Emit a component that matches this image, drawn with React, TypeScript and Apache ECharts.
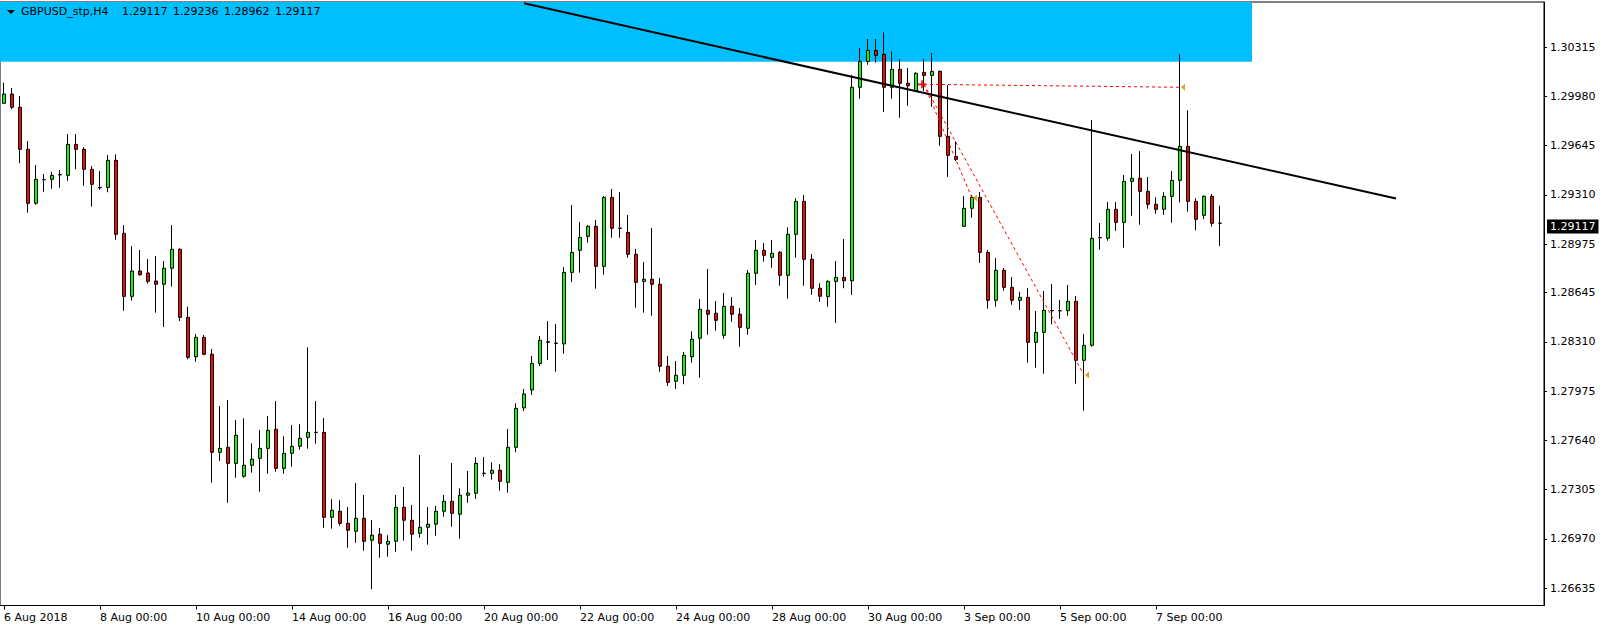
import React, { useEffect, useRef } from "react";
import * as echarts from "echarts";

const symbolName = "GBPUSD_stp,H4";
const xTickLabels = ["6 Aug 2018", "8 Aug 00:00", "10 Aug 00:00", "14 Aug 00:00", "16 Aug 00:00", "20 Aug 00:00", "22 Aug 00:00", "24 Aug 00:00", "28 Aug 00:00", "30 Aug 00:00", "3 Sep 00:00", "5 Sep 00:00", "7 Sep 00:00"];
const barsPerLabel = 12;
const totalSlots = 193;
const yTickValues = [1.30315, 1.2998, 1.29645, 1.2931, 1.28975, 1.28645, 1.2831, 1.27975, 1.2764, 1.27305, 1.2697, 1.26635];
const yMin = 1.26517;
const yMax = 1.30622;

const opens = [
  1.29933, 1.29996, 1.29906, 1.2962, 1.29253, 1.29415, 1.29416, 1.29446, 1.29443, 1.29654,
  1.2962, 1.29484, 1.2936, 1.29361, 1.29545, 1.29049, 1.2862, 1.28792, 1.28779, 1.28724,
  1.28702, 1.28811, 1.2894, 1.28477, 1.28209, 1.28341, 1.28226, 1.27559, 1.27593, 1.27484,
  1.27396, 1.27471, 1.27518, 1.27586, 1.27716, 1.2745, 1.27552, 1.276, 1.27661, 1.27696,
  1.27695, 1.27117, 1.27158, 1.27076, 1.27022, 1.2711, 1.26961, 1.27002, 1.26934, 1.26954,
  1.27185, 1.27097, 1.27008, 1.27049, 1.2707, 1.27158, 1.27226, 1.27138, 1.27267, 1.2728,
  1.27417, 1.27416, 1.27437, 1.27355, 1.27593, 1.27861, 1.27983, 1.28164, 1.28311, 1.28302,
  1.28296, 1.28783, 1.28933, 1.29028, 1.29096, 1.28824, 1.29293, 1.29084, 1.29055, 1.28906,
  1.28722, 1.28736, 1.28702, 1.28144, 1.28042, 1.28083, 1.28209, 1.28335, 1.28525, 1.28505,
  1.28355, 1.28552, 1.28498, 1.28403, 1.28777, 1.28933, 1.28885, 1.28919, 1.28763, 1.29042,
  1.29266, 1.28872, 1.28675, 1.28618, 1.28722, 1.28749, 1.28726, 1.30042, 1.30218, 1.30293,
  1.30266, 1.30042, 1.30164, 1.30069, 1.30014, 1.30144, 1.30123, 1.3015, 1.29708, 1.29572,
  1.29096, 1.29219, 1.29293, 1.28919, 1.28593, 1.28797, 1.28681, 1.28593, 1.28613, 1.28307,
  1.28375, 1.28523, 1.28521, 1.28522, 1.28586, 1.28185, 1.28287, 1.29018, 1.29015, 1.29212,
  1.29123, 1.29402, 1.29423, 1.29334, 1.29246, 1.29212, 1.293, 1.29409, 1.2964, 1.29266,
  1.29171, 1.293, 1.29117,
];

const highs = [
  1.30073, 1.30037, 1.29982, 1.29676, 1.29513, 1.29452, 1.29466, 1.29479, 1.29724, 1.29724,
  1.29634, 1.29506, 1.29472, 1.29581, 1.29586, 1.29105, 1.28962, 1.28935, 1.28874, 1.28894,
  1.2886, 1.29105, 1.28947, 1.28549, 1.28364, 1.28357, 1.28262, 1.27874, 1.27915, 1.27779,
  1.2779, 1.2762, 1.27711, 1.27806, 1.27908, 1.27668, 1.27745, 1.2775, 1.28273, 1.27908,
  1.27792, 1.2724, 1.27233, 1.27187, 1.2735, 1.27269, 1.27099, 1.27044, 1.26995, 1.27269,
  1.27323, 1.27201, 1.27541, 1.27187, 1.27194, 1.27269, 1.27486, 1.27314, 1.27432, 1.27525,
  1.27527, 1.27491, 1.27478, 1.27718, 1.27892, 1.2799, 1.28214, 1.2835, 1.28452, 1.28432,
  1.28819, 1.29241, 1.29126, 1.29105, 1.29139, 1.29302, 1.2935, 1.2933, 1.29173, 1.28942,
  1.28853, 1.29085, 1.28745, 1.28214, 1.2818, 1.28241, 1.28382, 1.28602, 1.28806, 1.28588,
  1.28643, 1.28615, 1.28541, 1.28799, 1.29003, 1.28983, 1.29003, 1.28928, 1.29089, 1.29287,
  1.29309, 1.28908, 1.28709, 1.28729, 1.2886, 1.2901, 1.30125, 1.30309, 1.3037, 1.3037,
  1.30416, 1.30286, 1.30234, 1.30173, 1.30144, 1.30234, 1.30275, 1.30157, 1.30057, 1.29674,
  1.29302, 1.29309, 1.2933, 1.28935, 1.28881, 1.28813, 1.28751, 1.28651, 1.28675, 1.2852,
  1.28656, 1.28704, 1.28595, 1.28697, 1.28622, 1.28364, 1.29819, 1.29119, 1.29262, 1.29262,
  1.29445, 1.29588, 1.29608, 1.29432, 1.29293, 1.29328, 1.29472, 1.30266, 1.29885, 1.29287,
  1.29307, 1.29316, 1.29236,
];

const lows = [
  1.29931, 1.29892, 1.29525, 1.29189, 1.29243, 1.29332, 1.29352, 1.29359, 1.29406, 1.29484,
  1.29372, 1.2923, 1.29345, 1.29328, 1.29005, 1.28522, 1.2859, 1.2876, 1.28706, 1.28509,
  1.28411, 1.28686, 1.28452, 1.28192, 1.28175, 1.28219, 1.27353, 1.275, 1.27216, 1.27386,
  1.27386, 1.27421, 1.27291, 1.27414, 1.27427, 1.27414, 1.27461, 1.27577, 1.27584, 1.27618,
  1.27046, 1.2704, 1.2706, 1.2691, 1.26944, 1.2689, 1.26628, 1.26842, 1.26849, 1.26883,
  1.26958, 1.2689, 1.26978, 1.26931, 1.26992, 1.27121, 1.27053, 1.26972, 1.27216, 1.27242,
  1.27393, 1.27373, 1.27298, 1.27285, 1.27559, 1.2784, 1.27949, 1.28146, 1.28187, 1.28107,
  1.2823, 1.28717, 1.28781, 1.28985, 1.28672, 1.28767, 1.29019, 1.29019, 1.28883, 1.28543,
  1.28509, 1.28488, 1.28107, 1.2801, 1.2799, 1.28022, 1.28169, 1.28067, 1.28359, 1.28386,
  1.28332, 1.28447, 1.28277, 1.28359, 1.28697, 1.28856, 1.28815, 1.28692, 1.28604, 1.28883,
  1.28692, 1.28631, 1.28583, 1.28549, 1.28439, 1.28675, 1.28629, 1.29964, 1.30195, 1.30209,
  1.29874, 1.29964, 1.29835, 1.29916, 1.30012, 1.30016, 1.2991, 1.29644, 1.29432, 1.2954,
  1.29092, 1.29155, 1.28847, 1.28536, 1.28549, 1.28658, 1.28563, 1.28527, 1.28169, 1.28135,
  1.28094, 1.2843, 1.28466, 1.28488, 1.28026, 1.27842, 1.28277, 1.28937, 1.28998, 1.29066,
  1.28951, 1.29168, 1.29107, 1.29216, 1.29182, 1.29175, 1.29121, 1.29259, 1.29196, 1.29069,
  1.29144, 1.29095, 1.28962,
];

const closes = [
  1.29996, 1.29906, 1.2962, 1.29253, 1.29416, 1.29413, 1.29443, 1.29448, 1.29654, 1.2962,
  1.29484, 1.29382, 1.29358, 1.29545, 1.29042, 1.2862, 1.28792, 1.28767, 1.28722, 1.28702,
  1.28811, 1.2894, 1.28477, 1.28205, 1.28341, 1.28226, 1.27559, 1.27586, 1.27484, 1.27675,
  1.27471, 1.27512, 1.27586, 1.27709, 1.2745, 1.27552, 1.276, 1.27654, 1.27695, 1.27694,
  1.27117, 1.27165, 1.27076, 1.27029, 1.2711, 1.26954, 1.26995, 1.2694, 1.26954, 1.27185,
  1.27097, 1.27002, 1.27049, 1.2707, 1.27158, 1.27226, 1.27144, 1.27267, 1.27282, 1.27484,
  1.27415, 1.27437, 1.27362, 1.27593, 1.27858, 1.27956, 1.28164, 1.28321, 1.28307, 1.283,
  1.28783, 1.28919, 1.29021, 1.29096, 1.28824, 1.29293, 1.29083, 1.29082, 1.28906, 1.28715,
  1.28736, 1.28702, 1.28144, 1.28035, 1.28083, 1.28219, 1.28328, 1.28532, 1.28498, 1.28457,
  1.28552, 1.28498, 1.28409, 1.28777, 1.28933, 1.28899, 1.28913, 1.28763, 1.29042, 1.29266,
  1.28872, 1.28675, 1.2862, 1.28722, 1.28749, 1.28726, 1.30042, 1.30218, 1.30293, 1.30259,
  1.30042, 1.30164, 1.30069, 1.30052, 1.30137, 1.30123, 1.3015, 1.29708, 1.29579, 1.29552,
  1.29219, 1.29293, 1.28919, 1.28593, 1.28797, 1.28681, 1.28593, 1.28613, 1.28307, 1.28375,
  1.28525, 1.28521, 1.28523, 1.28586, 1.28185, 1.28287, 1.29015, 1.2902, 1.29212, 1.29123,
  1.29402, 1.29423, 1.29334, 1.29246, 1.29212, 1.293, 1.29409, 1.2964, 1.29266, 1.29144,
  1.293, 1.29117, 1.29117,
];

// objects drawn on the chart: [barIndex, price]
const trendLine = [[65, 1.30613], [174, 1.29285]];
const dashedOrigin = [115, 1.30062];
const dashedEnds = [[147, 1.30042], [121, 1.29289], [135, 1.28085]];
const zoneBottom = 1.30215;
const zoneEndBar = 156;

const FONT = "'DejaVu Sans', sans-serif";

export default function App() {
  const ref = useRef<HTMLDivElement>(null);

  useEffect(() => {
    document.body.style.margin = "0";
    if (!ref.current) return;
    const chart = echarts.init(ref.current, undefined, { renderer: "svg" });

    const categories = Array.from({ length: totalSlots }, (_, i) => String(i));
    const candles = opens.map((o, i) => [o, closes[i], lows[i], highs[i]]);
    const last = opens.length - 1;
    const lastPrice = closes[last];
    const ohlcText = [opens[last], highs[last], lows[last], closes[last]].map((v) => v.toFixed(5)).join("\u2002");
    const isLabelIdx = (idx: number) => idx % barsPerLabel === 0 && idx / barsPerLabel < xTickLabels.length;

    const dashedStyle = { color: "#ff0000", width: 1, type: [3, 3] as any };

    const option: any = {
      animation: false,
      backgroundColor: "#ffffff",
      grid: {
        left: 0,
        right: 60,
        top: 2,
        bottom: 24.5,
        show: true,
        borderColor: "#000",
        borderWidth: 1,
        backgroundColor: "#fff",
        containLabel: false,
        outerBoundsMode: "none",
      },
      xAxis: {
        type: "category",
        data: categories,
        boundaryGap: true,
        axisLine: { show: true, lineStyle: { color: "#000", width: 1 } },
        axisTick: {
          show: true,
          alignWithLabel: true,
          length: 4,
          interval: (idx: number) => isLabelIdx(idx),
          lineStyle: { color: "#000" },
        },
        axisLabel: {
          show: true,
          interval: (idx: number) => isLabelIdx(idx),
          formatter: (_v: string, idx: number) => (isLabelIdx(idx) ? xTickLabels[idx / barsPerLabel] : ""),
          align: "left",
          margin: 6,
          color: "#000",
          fontSize: 11,
          fontFamily: FONT,
        },
        splitLine: { show: false },
      },
      yAxis: {
        type: "value",
        position: "right",
        min: yMin,
        max: yMax,
        scale: true,
        axisLine: { show: true, lineStyle: { color: "#000", width: 1 } },
        axisTick: { show: true, length: 3, customValues: yTickValues, lineStyle: { color: "#000" } },
        axisLabel: {
          customValues: yTickValues,
          formatter: (v: number) => v.toFixed(5),
          margin: 6,
          color: "#000",
          fontSize: 11,
          fontFamily: FONT,
        },
        splitLine: { show: false },
      },
      series: [
        {
          type: "candlestick",
          data: candles,
          barWidth: 4,
          clip: false,
          itemStyle: {
            color: "#00ff00",
            color0: "#ff0000",
            borderColor: "#000",
            borderColor0: "#000",
            borderColorDoji: "#000",
            borderWidth: 1,
          },
          emphasis: { disabled: true },
          markArea: {
            silent: true,
            z: 1,
            itemStyle: { color: "#00bfff", opacity: 1 },
            data: [[{ yAxis: zoneBottom }, { xAxis: zoneEndBar }]],
          },
          markLine: {
            silent: true,
            symbol: ["none", "none"],
            label: { show: false },
            data: [
              [
                { coord: trendLine[0], lineStyle: { color: "#000", width: 2, type: "solid" } },
                { coord: trendLine[1] },
              ],
              ...dashedEnds.map((e) => [
                { coord: dashedOrigin, lineStyle: dashedStyle },
                { coord: e },
              ]),
              {
                yAxis: lastPrice,
                lineStyle: { color: "rgba(0,0,0,0)", width: 1, opacity: 1 },
                label: {
                  show: true,
                  position: "end",
                  formatter: lastPrice.toFixed(5),
                  color: "#fff",
                  opacity: 1,
                  backgroundColor: "#000",
                  padding: [2, 3, 1, 3],
                  fontSize: 11,
                  fontFamily: FONT,
                  distance: 3,
                  align: "left",
                  verticalAlign: "middle",
                  offset: [0, -14],
                },
              },
            ],
          },
          markPoint: {
            silent: true,
            label: { show: false },
            data: [
              ...dashedEnds.map((e) => ({
                coord: e,
                symbol: "triangle",
                symbolRotate: 90,
                symbolSize: [7, 4],
                symbolOffset: [3, 0],
                itemStyle: { color: "#daa520" },
              })),
              {
                coord: dashedOrigin,
                symbol: "path://M0,4L10,4L10,6L0,6ZM4,0L6,0L6,10L4,10Z",
                symbolSize: 8,
                symbolOffset: [-2, 0],
                itemStyle: { color: "#ff0000" },
              },
            ],
          },
        },
      ],
      graphic: [
        {
          type: "polygon",
          z: 100,
          shape: { points: [[7, 10], [15, 10], [11, 14]] },
          style: { fill: "#000" },
        },
        {
          type: "text",
          z: 100,
          x: 21,
          y: 11.5,
          style: { text: symbolName, fill: "#000", fontSize: 11, fontFamily: FONT, verticalAlign: "middle" },
        },
        {
          type: "text",
          z: 100,
          x: 122,
          y: 11.5,
          style: { text: ohlcText, fill: "#000", fontSize: 11, fontFamily: FONT, verticalAlign: "middle" },
        },
      ],
    };

    chart.setOption(option);
    return () => chart.dispose();
  }, []);

  return <div ref={ref} style={{ width: 1604, height: 630 }} />;
}
